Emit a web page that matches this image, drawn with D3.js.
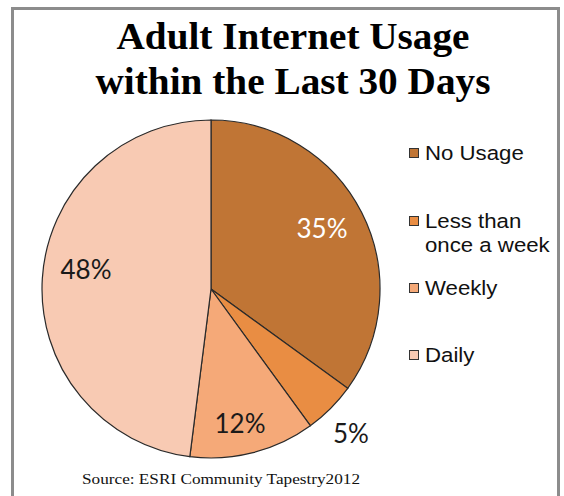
<!DOCTYPE html>
<html><head><meta charset="utf-8">
<script src="https://cdn.jsdelivr.net/npm/d3@7"></script>
<style>body{margin:0;background:#fff}svg{display:block}</style>
</head><body>
<script>
const categories = ["No Usage", "Less than once a week", "Weekly", "Daily"];
const legendLines = [["No Usage"], ["Less than", "once a week"], ["Weekly"], ["Daily"]];
const values = [35, 5, 12, 48];
const labels = ["35%", "5%", "12%", "48%"];
const colors = ["#C07535", "#E98D43", "#F5A978", "#F8CAB3"];
const titleLines = ["Adult Internet Usage", "within the Last 30 Days"];
const source = "Source: ESRI Community Tapestry2012";

const W = 564, H = 496;
const svg = d3.select("body").append("svg").attr("width", W).attr("height", H);

svg.append("rect").attr("x", 12.5).attr("y", 8.5).attr("width", 546).attr("height", 500)
  .attr("fill", "#fff").attr("stroke", "#8c8c8c").attr("stroke-width", 3);

const titleLen = [353, 395];
svg.selectAll("text.title").data(titleLines).join("text").attr("class", "title")
  .attr("x", 293).attr("y", (d, i) => 49 + i * 45)
  .attr("text-anchor", "middle")
  .attr("textLength", (d, i) => titleLen[i]).attr("lengthAdjust", "spacingAndGlyphs")
  .style("font-family", "'Liberation Serif', 'Times New Roman', serif")
  .style("font-weight", "bold").style("font-size", "38px").attr("fill", "#000")
  .text(d => d);

const cx = 211, cy = 289, r = 169;
const pie = d3.pie().sort(null).value(d => d)(values);
const arc = d3.arc().innerRadius(0).outerRadius(r);
const g = svg.append("g").attr("transform", `translate(${cx},${cy})`);
g.selectAll("path").data(pie).join("path")
  .attr("d", arc).attr("fill", (d, i) => colors[i])
  .attr("stroke", "#2a2a2a").attr("stroke-width", 1.2);

const labelPos = [[111, -61], [140, 144], [29, 134], [-125, -20]];
const labelFill = ["#fff", "#1a1a1a", "#1a1a1a", "#1a1a1a"];
g.selectAll("text.lbl").data(labels).join("text").attr("class", "lbl")
  .attr("x", (d, i) => labelPos[i][0]).attr("y", (d, i) => labelPos[i][1])
  .attr("text-anchor", "middle").attr("dominant-baseline", "central")
  .style("font-family", "Lato, 'Open Sans', sans-serif").style("font-size", "26px")
  .attr("fill", (d, i) => labelFill[i]).text(d => d);

const legY = [153, 221, 288, 355];
const leg = svg.append("g");
legendLines.forEach((lines, i) => {
  leg.append("rect").attr("x", 409.5).attr("y", legY[i] - 4.5).attr("width", 9).attr("height", 9)
    .attr("fill", colors[i]).attr("stroke", "#333").attr("stroke-width", 1);
  lines.forEach((t, j) => {
    leg.append("text").attr("transform", `translate(425,${legY[i] + j * 24}) scale(1.14,1)`)
      .attr("dominant-baseline", "central")
      .style("font-family", "'Liberation Sans', Arial, sans-serif").style("font-size", "19.5px")
      .attr("fill", "#111").text(t);
  });
});

svg.append("text").attr("x", 221).attr("y", 484).attr("text-anchor", "middle")
  .attr("textLength", 278).attr("lengthAdjust", "spacingAndGlyphs")
  .style("font-family", "'Liberation Serif', 'Times New Roman', serif").style("font-size", "15px")
  .attr("fill", "#111").text(source);
</script>
</body></html>
